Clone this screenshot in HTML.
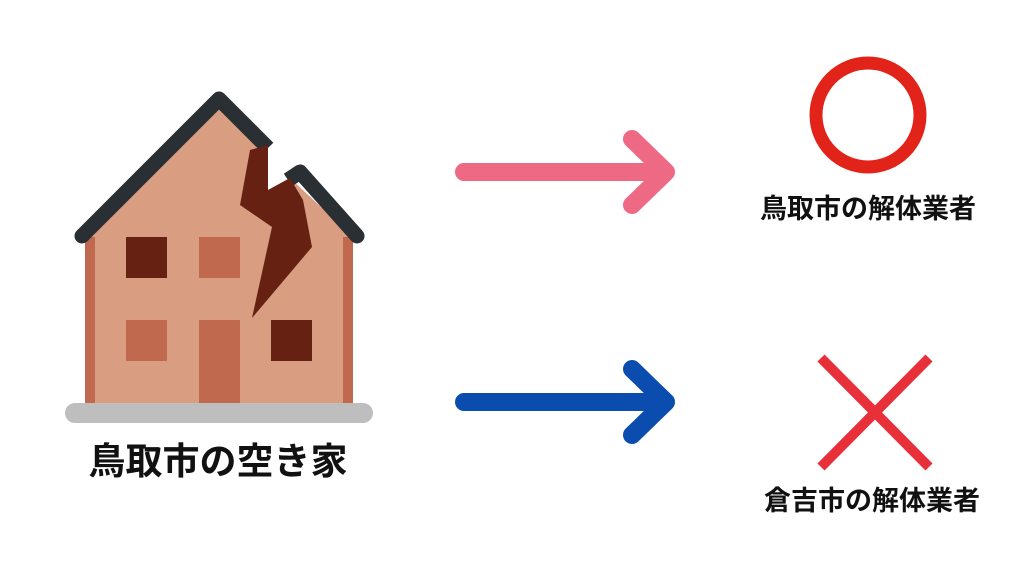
<!DOCTYPE html>
<html><head><meta charset="utf-8"><style>
html,body{margin:0;padding:0;background:#fff;}
body{width:1024px;height:576px;overflow:hidden;position:relative;font-family:"Liberation Sans","Noto Sans CJK JP",sans-serif;}
.t{position:absolute;font-weight:bold;color:#111;white-space:nowrap;text-align:center;line-height:1;}
</style></head><body>
<svg width="1024" height="576" style="position:absolute;left:0;top:0">
<polygon points="85,237 219,103 268,152 268,190 290,178 353,237 353,403 85,403" fill="#D99E82"/>
<rect x="85" y="237" width="10" height="166" fill="#C1694F"/>
<rect x="343" y="237" width="10" height="166" fill="#C1694F"/>
<rect x="126" y="237" width="41" height="41" fill="#662113"/>
<rect x="199" y="237" width="41" height="41" fill="#C1694F"/>
<rect x="126" y="320" width="41" height="41" fill="#C1694F"/>
<rect x="199" y="320" width="41" height="83" fill="#C1694F"/>
<rect x="271" y="320" width="41" height="41" fill="#662113"/>
<polyline points="82,236 219,99 268,148" fill="none" stroke="#292F33" stroke-width="15" stroke-linejoin="round"/>
<circle cx="82" cy="236" r="7.5" fill="#292F33"/>
<polyline points="288,180 300,172 357,236" fill="none" stroke="#292F33" stroke-width="15" stroke-linejoin="round"/>
<circle cx="357" cy="236" r="7.5" fill="#292F33"/>
<polygon points="250,150 268,145 268,190 290,178 303,200 312,247 252,318 272,227 240,205" fill="#662113"/>
<rect x="65" y="403" width="308" height="20" rx="10" fill="#BEBEBE"/>
<g fill="none" stroke-width="18" stroke-linecap="round" stroke-linejoin="round">
<path d="M464 172 H666 M632 139 L666 172 L632 205" stroke="#EE6A84"/>
<path d="M464 402 H666 M632 369 L666 402 L632 435" stroke="#0A4DAE"/>
</g>
<circle cx="868" cy="115" r="52" fill="none" stroke="#E2231A" stroke-width="13"/>
<path d="M821 358 L929 467 M929 358 L821 467" stroke="#E8303A" stroke-width="10"/>
</svg>
<div class="t" style="left:748px;width:240px;top:196px;font-size:27px;">鳥取市の解体業者</div>
<div class="t" style="left:752px;width:240px;top:488px;font-size:27px;">倉吉市の解体業者</div>
<div class="t" style="left:68px;width:300px;top:443px;font-size:37px;">鳥取市の空き家</div>
</body></html>
